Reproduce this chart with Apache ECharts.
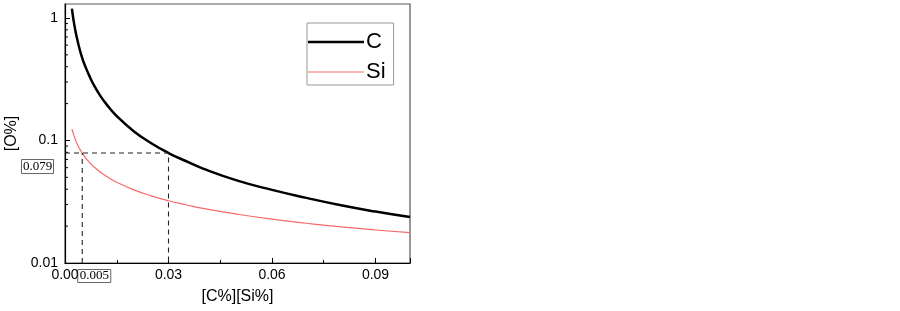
<!DOCTYPE html>
<html><head><meta charset="utf-8">
<script src="https://cdn.jsdelivr.net/npm/echarts@6/dist/echarts.min.js"></script>
<style>html,body{margin:0;padding:0;background:#fff}#c{width:900px;height:311px}</style>
</head><body><div id="c"></div>
<script>
// concentrations
const xValues = [0.002,0.0025,0.003,0.0035,0.004,0.005,0.006,0.007,0.008,0.01,0.012,0.015,0.02,0.025,0.03,0.035,0.04,0.05,0.06,0.07,0.08,0.09,0.1];
const cValues = [1.19,0.95,0.79,0.68,0.59,0.47,0.395,0.34,0.296,0.237,0.198,0.158,0.1185,0.095,0.079,0.068,0.059,0.047,0.0395,0.034,0.0296,0.0263,0.0237];
const siValues = [0.124,0.112,0.102,0.094,0.088,0.079,0.072,0.0667,0.0624,0.0558,0.051,0.0456,0.0395,0.0353,0.0322,0.0299,0.0279,0.025,0.0228,0.0211,0.0197,0.0186,0.0177];
const guideC = [[0,0.079],[0.03,0.079],[0.03,0.01]];
const guideSi = [[0.005,0.01],[0.005,0.079]];
const yMinorTicks = [0.02,0.03,0.04,0.05,0.06,0.07,0.08,0.09,0.2,0.3,0.4,0.5,0.6,0.7,0.8,0.9];
const xTickLabels = ['0.00','0.03','0.06','0.09'];
const yTickLabels = {'0.01':'0.01','0.1':'0.1','1':'1'};
const markLabelY = '0.079', markLabelX = '0.005';

const chart = echarts.init(document.getElementById('c'));
const font = 'Liberation Sans, Arial, sans-serif';
chart.setOption({
  animation:false,
  grid:{left:65,right:490,top:4,bottom:48,show:true,borderColor:'#555',borderWidth:1.2},
  legend:{
    orient:'vertical', left:307, top:23, itemWidth:56, itemHeight:14, itemGap:8,
    padding:[8,8,2,1], borderColor:'#999', borderWidth:1, symbolKeepAspect:true,
    textStyle:{fontSize:22,fontFamily:font,color:'#000',padding:[0,0,0,-3]},
    data:[{name:'C',icon:'path://M0,0h56v2.6h-56z',itemStyle:{color:'#000'}},
          {name:'Si',icon:'path://M0,0h56v1.1h-56z',itemStyle:{color:'#f76a6a'}}]
  },
  xAxis:{
    type:'value', min:0, max:0.1, interval:0.03,
    name:'[C%][Si%]', nameLocation:'middle', nameGap:26,
    nameTextStyle:{fontSize:16,fontFamily:font,color:'#000'},
    axisLine:{lineStyle:{color:'#000',width:1.2}},
    axisTick:{inside:true,length:5,lineStyle:{color:'#000'}},
    minorTick:{show:true,splitNumber:2,length:3,lineStyle:{color:'#000'}},
    splitLine:{show:false},
    axisLabel:{fontSize:14,fontFamily:font,color:'#000',margin:5,
      formatter:(v)=>{const i=Math.round(v/0.03);return Math.abs(v-i*0.03)<1e-9?xTickLabels[i]:'';}}
  },
  yAxis:{
    type:'log', logBase:10, min:0.01, max:1.3,
    name:'[O%]', nameLocation:'middle', nameGap:45,
    nameTextStyle:{fontSize:16,fontFamily:font,color:'#000'},
    axisLine:{lineStyle:{color:'#000',width:1.2}},
    axisTick:{inside:true,length:5,lineStyle:{color:'#000'}},
    splitLine:{show:false},
    axisLabel:{fontSize:14,fontFamily:font,color:'#000',margin:7,showMaxLabel:false,
      formatter:(v)=>{const k=String(+v.toPrecision(3));return yTickLabels[k]||'';}}
  },
  series:[
    {name:'C',type:'line',smooth:true,symbol:'none',data:xValues.map((x,i)=>[x,cValues[i]]),
     lineStyle:{color:'#000',width:2.5},itemStyle:{color:'#000'}},
    {name:'Si',type:'line',smooth:true,symbol:'none',data:xValues.map((x,i)=>[x,siValues[i]]),
     lineStyle:{color:'#f76a6a',width:1.2},itemStyle:{color:'#f76a6a'}},
    {type:'line',symbol:'none',data:guideC,lineStyle:{color:'#222',width:1.1,type:[5,4]},silent:true},
    {type:'line',symbol:'none',data:guideSi,lineStyle:{color:'#222',width:1.1,type:[5,4]},silent:true},
    {type:'custom',silent:true,data:yMinorTicks.map(v=>[0,v]),
     renderItem:(params,api)=>{
       const p=api.coord([0,api.value(1)]);
       return {type:'line',shape:{x1:p[0],y1:p[1],x2:p[0]+3,y2:p[1]},style:{stroke:'#000',lineWidth:1}};
     }}
  ]
});
const py = chart.convertToPixel({xAxisIndex:0,yAxisIndex:0},[0,0.079]);
const px = chart.convertToPixel({xAxisIndex:0,yAxisIndex:0},[0.005,0.01]);
chart.setOption({graphic:[
  {type:'group',left:21,top:py[1]+6,children:[
    {type:'rect',shape:{x:0,y:0,width:32,height:14},style:{fill:'#fff',stroke:'#666',lineWidth:1}},
    {type:'text',x:16,y:7,style:{text:markLabelY,fontFamily:'Liberation Serif, Times New Roman, serif',fontSize:13,fill:'#000',align:'center',verticalAlign:'middle'}}
  ]},
  {type:'group',left:px[0]-5,top:px[1]+6,children:[
    {type:'rect',shape:{x:0,y:0,width:33,height:13},style:{fill:'#fff',stroke:'#666',lineWidth:1}},
    {type:'text',x:16.5,y:6.5,style:{text:markLabelX,fontFamily:'Liberation Serif, Times New Roman, serif',fontSize:13,fill:'#000',align:'center',verticalAlign:'middle'}}
  ]}
]});
</script></body></html>
